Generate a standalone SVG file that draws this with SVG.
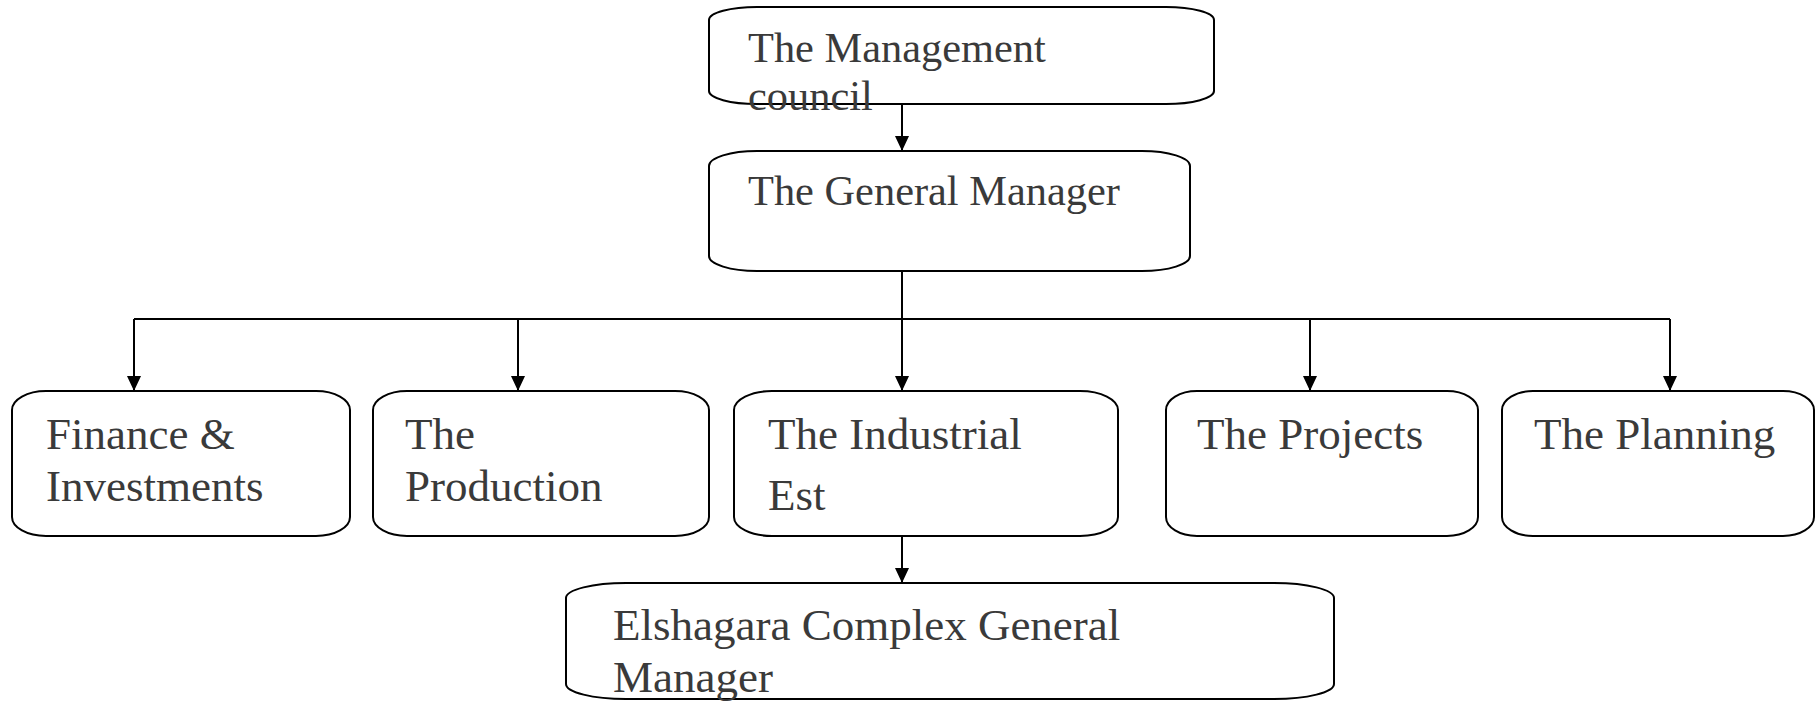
<svg xmlns="http://www.w3.org/2000/svg" width="1816" height="702" viewBox="0 0 1816 702">
<style>
.box{fill:#ffffff;stroke:#000000;stroke-width:2}
.t{font-family:"Liberation Serif","Times New Roman",serif;fill:#3a3a3a}
.big{font-size:45px}
.top{font-size:42.4px}
.c{fill:none;stroke:#000000;stroke-width:2}
</style>
<defs>
<marker id="ah" markerUnits="userSpaceOnUse" markerWidth="15" markerHeight="14" refX="15" refY="7" orient="auto" viewBox="0 0 15 14">
<path d="M0 0 L15 7 L0 14 z" fill="#000000"/>
</marker>
</defs>
<rect width="1816" height="702" fill="#ffffff"/>
<g id="connectors">
<path class="c" d="M902 104 V151" marker-end="url(#ah)"/>
<path class="c" d="M902 271 V391" marker-end="url(#ah)"/>
<path class="c" d="M134 319 H1670"/>
<path class="c" d="M134 319 V391" marker-end="url(#ah)"/>
<path class="c" d="M518 319 V391" marker-end="url(#ah)"/>
<path class="c" d="M1310 319 V391" marker-end="url(#ah)"/>
<path class="c" d="M1670 319 V391" marker-end="url(#ah)"/>
<path class="c" d="M902 536 V583" marker-end="url(#ah)"/>
</g>
<g id="management-council">
<rect class="box" x="709" y="7" width="505" height="97" rx="48" ry="13"/>
<text class="t top" x="748" y="62">The Management</text>
<text class="t top" x="748" y="110">council</text>
</g>
<g id="general-manager">
<rect class="box" x="709" y="151" width="481" height="120" rx="48" ry="15"/>
<text class="t top" x="748" y="205">The General Manager</text>
</g>
<g id="finance">
<rect class="box" x="12" y="391" width="338" height="145" rx="34" ry="19"/>
<text class="t big" x="46" y="449">Finance &amp;</text>
<text class="t big" x="46" y="501">Investments</text>
</g>
<g id="production">
<rect class="box" x="373" y="391" width="336" height="145" rx="34" ry="19"/>
<text class="t big" x="405" y="449">The</text>
<text class="t big" x="405" y="501">Production</text>
</g>
<g id="industrial">
<rect class="box" x="734" y="391" width="384" height="145" rx="38" ry="19"/>
<text class="t big" x="768" y="449">The Industrial</text>
<text class="t big" x="768" y="510">Est</text>
</g>
<g id="projects">
<rect class="box" x="1166" y="391" width="312" height="145" rx="31" ry="19"/>
<text class="t big" x="1197" y="449">The Projects</text>
</g>
<g id="planning">
<rect class="box" x="1502" y="391" width="312" height="145" rx="31" ry="19"/>
<text class="t big" x="1534" y="449">The Planning</text>
</g>
<g id="elshagara">
<rect class="box" x="566" y="583" width="768" height="116" rx="60" ry="15"/>
<text class="t big" x="613" y="640">Elshagara Complex General</text>
<text class="t big" x="613" y="692">Manager</text>
</g>
</svg>
